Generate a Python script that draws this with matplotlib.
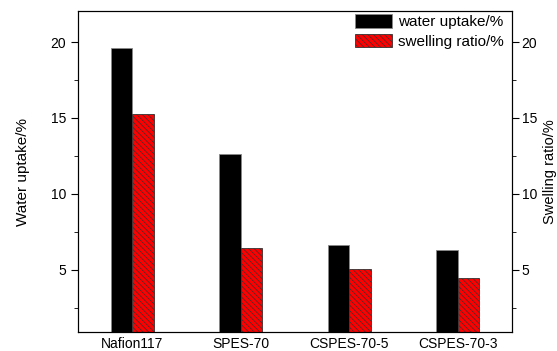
import matplotlib
matplotlib.use("Agg")
import matplotlib.pyplot as plt
import numpy as np

plt.rcParams['font.family'] = ['Liberation Sans', 'DejaVu Sans']
plt.rcParams['hatch.color'] = '#400000'
plt.rcParams['hatch.linewidth'] = 0.5

categories = ["Nafion117", "SPES-70", "CSPES-70-5", "CSPES-70-3"]
water_uptake = [19.62, 12.63, 6.64, 6.33]
swelling_ratio = [15.24, 6.45, 5.09, 4.49]

fig = plt.figure(figsize=(5.57, 3.51), dpi=100)
ax = fig.add_axes([78/557, 1 - 332/351, (512-78)/557, (332-11)/351])
x = np.arange(1, len(categories) + 1)
w = 0.2
ax.bar(x - w/2, water_uptake, width=w, color='black', edgecolor='#888888', linewidth=0.6,
       label='water uptake/%')
ax.bar(x + w/2, swelling_ratio, width=w, color='red', edgecolor='#333333', linewidth=0.6,
       hatch='\\\\\\\\\\\\', label='swelling ratio/%')

ax.set_xlim(0.5, 4.5)
ax.set_ylim(0.92, 22.04)
ax.set_xticks(x)
ax.set_xticklabels(categories, fontsize=10)
ax.tick_params(axis='x', length=0)
ax.set_yticks([5, 10, 15, 20])
ax.set_yticks([2.5, 7.5, 12.5, 17.5], minor=True)
ax.tick_params(axis='y', which='major', length=5, direction='out', labelsize=10)
ax.tick_params(axis='y', which='minor', length=3, direction='out')
ax.set_ylabel('Water uptake/%', fontsize=11, labelpad=15)

ax2 = ax.twinx()
ax2.set_ylim(0.92, 22.04)
ax2.set_yticks([5, 10, 15, 20])
ax2.set_yticks([2.5, 7.5, 12.5, 17.5], minor=True)
ax2.tick_params(axis='y', which='major', length=5, direction='out', labelsize=10, pad=2)
ax2.tick_params(axis='y', which='minor', length=3, direction='out')
ax2.set_ylabel('Swelling ratio/%', fontsize=10.5, labelpad=4)

ax.legend(loc='upper right', frameon=False, fontsize=11, handlelength=2.4,
          handleheight=1.0, handletextpad=0.4, labelspacing=0.3,
          borderaxespad=0.0, bbox_to_anchor=(0.995, 1.01))

fig.savefig('out.png', dpi=100)
